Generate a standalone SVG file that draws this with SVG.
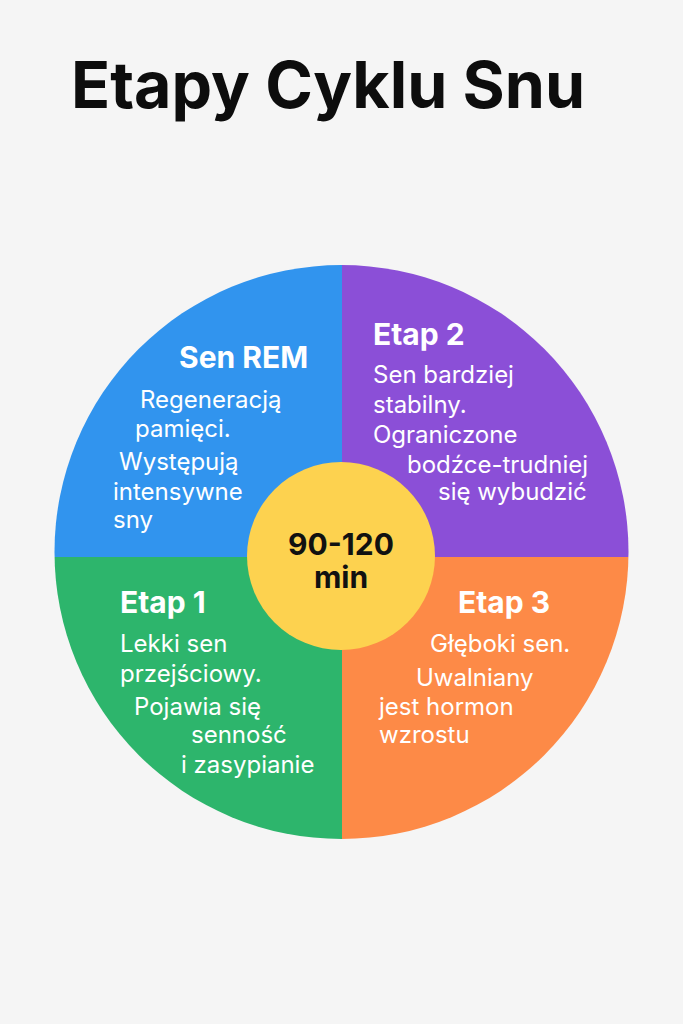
<svg xmlns="http://www.w3.org/2000/svg" width="683" height="1024" viewBox="0 0 683 1024">
<style>
.title{font-family:Inter,"Liberation Sans",sans-serif;font-weight:700;font-size:64.5px;fill:#0d0d0d}
.head{font-family:Inter,"Liberation Sans",sans-serif;font-weight:700;font-size:30px;fill:#ffffff}
.body{font-family:Inter,"Liberation Sans",sans-serif;font-weight:400;font-size:24px;fill:#ffffff}
.mid{font-family:Inter,"Liberation Sans",sans-serif;font-weight:700;font-size:30px;fill:#111111;text-anchor:middle}
</style>
<defs>
<clipPath id="disc"><circle cx="341.5" cy="552" r="287"/></clipPath>
</defs>
<rect width="683" height="1024" fill="#f5f5f5"/>
<g id="title"><text class="title" x="71" y="108">Etapy Cyklu Snu</text></g>
<g id="sectors" clip-path="url(#disc)">
<rect id="sector-rem" x="0" y="200" width="342" height="357" fill="#3194ee"/>
<rect id="sector-etap2" x="342" y="200" width="341" height="357" fill="#8b4fd7"/>
<rect id="sector-etap1" x="0" y="557" width="342" height="340" fill="#2db56c"/>
<rect id="sector-etap3" x="342" y="557" width="341" height="340" fill="#fd8a47"/>
</g>
<g id="rem">
<text class="head" x="179" y="368">Sen REM</text>
<text class="body" x="140" y="408">Regeneracją</text>
<text class="body" x="135" y="437">pamięci.</text>
<text class="body" x="119" y="470">Występują</text>
<text class="body" x="113" y="500">intensywne</text>
<text class="body" x="113" y="528">sny</text>
</g>
<g id="etap2">
<text class="head" x="373" y="345">Etap 2</text>
<text class="body" x="373" y="383">Sen bardziej</text>
<text class="body" x="373" y="413">stabilny.</text>
<text class="body" x="373" y="443">Ograniczone</text>
<text class="body" x="407" y="473">bodźce-trudniej</text>
<text class="body" x="438" y="500">się wybudzić</text>
</g>
<g id="etap1">
<text class="head" x="120" y="613">Etap 1</text>
<text class="body" x="120" y="652">Lekki sen</text>
<text class="body" x="120" y="682">przejściowy.</text>
<text class="body" x="134" y="715">Pojawia się</text>
<text class="body" x="191" y="743">senność</text>
<text class="body" x="181" y="773">i zasypianie</text>
</g>
<g id="etap3">
<text class="head" x="458" y="613">Etap 3</text>
<text class="body" x="430" y="652">Głęboki sen.</text>
<text class="body" x="416" y="686">Uwalniany</text>
<text class="body" x="379" y="715">jest hormon</text>
<text class="body" x="379" y="743">wzrostu</text>
</g>
<g id="center">
<circle cx="341" cy="556" r="94" fill="#fdd24f"/>
<text class="mid" x="341" y="555">90-120</text>
<text class="mid" x="341" y="588">min</text>
</g>
</svg>
